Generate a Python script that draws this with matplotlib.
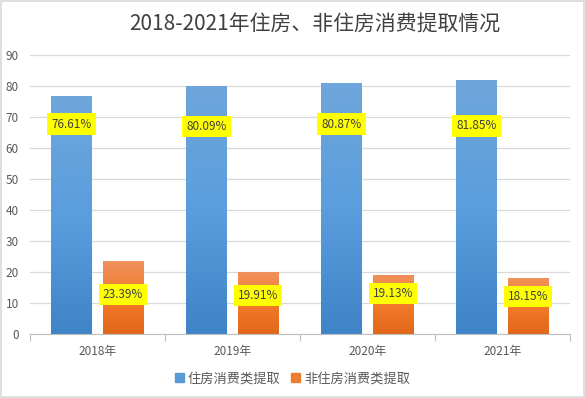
import numpy as np
import matplotlib
matplotlib.use('Agg')
import matplotlib.pyplot as plt
from matplotlib.patches import Rectangle, Patch
from matplotlib.colors import LinearSegmentedColormap

plt.rcParams['font.family'] = ['Noto Sans CJK SC', 'DejaVu Sans']

years = ['2018年', '2019年', '2020年', '2021年']
housing = [76.61, 80.09, 80.87, 81.85]
non_housing = [23.39, 19.91, 19.13, 18.15]
housing_labels = ['76.61%', '80.09%', '80.87%', '81.85%']
non_housing_labels = ['23.39%', '19.91%', '19.13%', '18.15%']
# heights where the yellow labels sit
housing_label_y = [67.7, 66.9, 67.7, 67.1]
non_housing_label_y = [12.8, 12.4, 13.1, 12.0]
series_names = ['住房消费类提取', '非住房消费类提取']

fig = plt.figure(figsize=(5.85, 3.98), dpi=100)
ax = fig.add_axes([0.051, 0.161, 0.923, 0.701])

# outer frame like the excel chart area
fig.patches.append(Rectangle((0.002, 0.003), 0.996, 0.994, transform=fig.transFigure,
                             fill=False, edgecolor='#D9D9D9', lw=1.2))

blue_cmap = LinearSegmentedColormap.from_list('b', ['#3E84C6', '#5A9EDE', '#6FA6DB'])
orange_cmap = LinearSegmentedColormap.from_list('o', ['#E1671A', '#F37B2B', '#F0915C'])

x = np.arange(len(years))
w = 0.30
off = 0.19
bars1 = ax.bar(x - off, housing, w, color='none', zorder=3)
bars2 = ax.bar(x + off, non_housing, w, color='none', zorder=3)

grad = np.linspace(0, 1, 256).reshape(-1, 1)
for bars, cmap in [(bars1, blue_cmap), (bars2, orange_cmap)]:
    for b in bars:
        x0, y0 = b.get_x(), b.get_y()
        im = ax.imshow(grad, cmap=cmap, origin='lower', aspect='auto',
                       extent=(x0, x0 + b.get_width(), y0, y0 + b.get_height()),
                       zorder=2)
        im.set_clip_path(b)

for i in range(len(years)):
    ax.text(x[i] - off, housing_label_y[i], housing_labels[i], ha='center', va='center',
            fontsize=8.5, color='#404040', zorder=5,
            bbox=dict(boxstyle='square,pad=0.35', fc='#FFFF00', ec='none'))
    ax.text(x[i] + off, non_housing_label_y[i], non_housing_labels[i], ha='center', va='center',
            fontsize=8.5, color='#404040', zorder=5,
            bbox=dict(boxstyle='square,pad=0.35', fc='#FFFF00', ec='none'))

ax.set_xlim(-0.5, 3.5)
ax.set_ylim(0, 90)
ax.set_yticks(range(0, 91, 10))
ax.set_xticks(x)
ax.set_xticklabels(years)
ax.set_xticks(np.arange(-0.5, 3.6, 1), minor=True)
ax.tick_params(axis='x', which='major', length=0, pad=8, labelsize=8.5, labelcolor='#595959')
ax.tick_params(axis='x', which='minor', length=5, color='#BFBFBF', width=0.8)
ax.tick_params(axis='y', length=0, pad=8, labelsize=8.5, labelcolor='#595959')
ax.yaxis.grid(True, color='#D9D9D9', lw=0.9, zorder=0)
ax.set_axisbelow(True)
for s in ['top', 'right', 'left']:
    ax.spines[s].set_visible(False)
ax.spines['bottom'].set_color('#BFBFBF')

fig.text(0.538, 0.94, '2018-2021年住房、非住房消费提取情况', ha='center', va='center',
         fontsize=15, color='#404040')

handles = [Patch(color='#5B9BD5'), Patch(color='#ED7D31')]
fig.legend(handles, series_names, loc='center', bbox_to_anchor=(0.5, 0.048), ncol=2,
           frameon=False, fontsize=9.5, handlelength=0.7, handleheight=0.7,
           handletextpad=0.3, columnspacing=0.8, labelcolor='#595959')

fig.savefig('out.png', dpi=100)
